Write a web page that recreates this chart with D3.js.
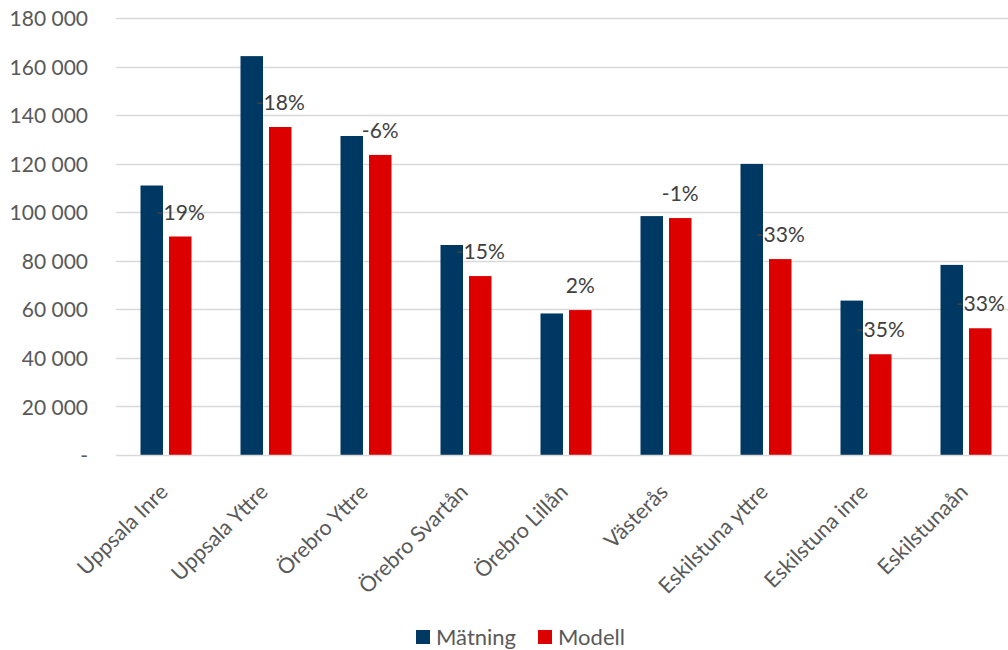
<!DOCTYPE html>
<html>
<head>
<meta charset="utf-8">
<script src="https://cdn.jsdelivr.net/npm/d3@7"></script>
<style>
  html, body { margin: 0; padding: 0; background: #fff; }
  svg { display: block; font-family: Lato, "Open Sans", sans-serif; }
</style>
</head>
<body>
<svg id="chart" width="1008" height="650"></svg>
<script>
// Measured vs modelled traffic per site
const categories = ["Uppsala Inre", "Uppsala Yttre", "Örebro Yttre", "Örebro Svartån", "Örebro Lillån",
                    "Västerås", "Eskilstuna yttre", "Eskilstuna inre", "Eskilstunaån"];
const matning = [111000, 164300, 131400, 86500, 58300, 98400, 119900, 63600, 78300];
const modell  = [90000, 135100, 123600, 73700, 59700, 97600, 80700, 41500, 52200];
const diffLabels = ["-19%", "-18%", "-6%", "-15%", "2%", "-1%", "-33%", "-35%", "-33%"];
const yTicks = [0, 20000, 40000, 60000, 80000, 100000, 120000, 140000, 160000, 180000];
const seriesNames = ["Mätning", "Modell"];
const seriesColors = ["#003864", "#dc0000"];

const svg = d3.select("#chart");
const plotLeft = 116, plotTop = 18, plotBottom = 455;

const x = d3.scaleBand().domain(categories).range([plotLeft, plotLeft + 900]).padding(0);
const y = d3.scaleLinear().domain([0, 180000]).range([plotBottom, plotTop]);

const barW = 22.5, gap = 6;

// grid lines
svg.append("g").selectAll("line").data(yTicks.slice(1)).join("line")
  .attr("x1", plotLeft).attr("x2", 1008)
  .attr("y1", d => Math.round(y(d)) + 0.5).attr("y2", d => Math.round(y(d)) + 0.5)
  .attr("stroke", "#d9d9d9").attr("stroke-width", 1.3);

// y axis labels
const fmt = d => d === 0 ? "-" : d3.format(",")(d).replace(/,/g, " ");
const yAxis = d3.axisLeft(y).tickValues(yTicks).tickFormat(fmt).tickSize(0).tickPadding(0);
const ya = svg.append("g").attr("transform", "translate(88,0)").call(yAxis);
ya.select(".domain").remove();
ya.selectAll("text").attr("fill", "#595959").style("font-size", "21px")
  .style("font-family", "Lato, sans-serif").attr("dy", "0.36em");

// bars
const g = svg.append("g");
categories.forEach((c, i) => {
  const cx = x(c) + x.bandwidth() / 2;
  g.append("rect").attr("x", cx - gap / 2 - barW).attr("width", barW)
    .attr("y", y(matning[i])).attr("height", y(0) - y(matning[i]))
    .attr("fill", seriesColors[0]);
  g.append("rect").attr("x", cx + gap / 2).attr("width", barW)
    .attr("y", y(modell[i])).attr("height", y(0) - y(modell[i]))
    .attr("fill", seriesColors[1]);
  g.append("text").attr("x", cx + gap / 2 + barW / 2).attr("y", y(modell[i]) - 17)
    .attr("text-anchor", "middle").attr("fill", "#404040").style("font-size", "21px")
    .text(diffLabels[i]);
});

// x axis
svg.append("line").attr("x1", plotLeft).attr("x2", 1008)
  .attr("y1", plotBottom + 0.5).attr("y2", plotBottom + 0.5)
  .attr("stroke", "#d9d9d9").attr("stroke-width", 1.3);

const xAxis = d3.axisBottom(x).tickSize(0).tickPadding(0);
const xa = svg.append("g").attr("transform", `translate(0,${plotBottom})`).call(xAxis);
xa.select(".domain").remove();
xa.selectAll("text")
  .attr("fill", "#595959").style("font-size", "21.5px").style("font-family", "Lato, sans-serif")
  .attr("text-anchor", "end")
  .attr("transform", "translate(-2,33) rotate(-45)")
  .attr("dy", "0.35em").attr("y", 0);

// legend
const legend = svg.append("g");
const lx = [416, 538];
seriesNames.forEach((n, i) => {
  legend.append("rect").attr("x", lx[i]).attr("y", 630).attr("width", 14).attr("height", 14)
    .attr("fill", seriesColors[i]);
  legend.append("text").attr("x", lx[i] + 20).attr("y", 645).attr("fill", "#595959")
    .style("font-size", "22px").text(n);
});
</script>
</body>
</html>
